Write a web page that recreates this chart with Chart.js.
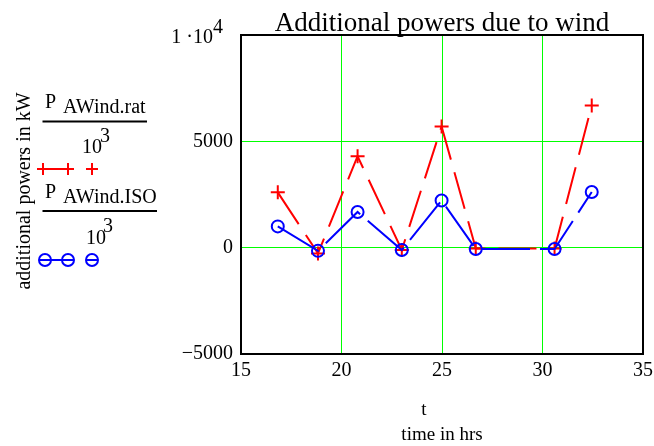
<!DOCTYPE html>
<html>
<head>
<meta charset="utf-8">
<script src="https://cdn.jsdelivr.net/npm/chart.js@4"></script>
<style>
html, body { margin: 0; padding: 0; background: #fff; }
#wrap { width: 654px; height: 446px; }
</style>
</head>
<body>
<div id="wrap"><canvas id="windChart" width="654" height="446"></canvas></div>
<script>
// time values (hrs) and powers divided by 10^3
const hours = [16.83, 18.83, 20.8, 23.0, 24.98, 26.68, 30.6, 32.45];
const pRat = [2600, -270, 4300, -110, 5700, -40, -40, 6690];
const pIso = [1000, -150, 1680, -110, 2220, -60, -60, 2620];
const xTicks = [15, 20, 25, 30, 35];
const yTicks = [-5000, 0, 5000, 10000];
const gridX = [20, 25, 30];
const gridY = [0, 5000];

const SERIF = "'Liberation Serif', 'DejaVu Serif', serif";
const RED = 'rgb(255, 0, 0)';
const BLUE = 'rgb(0, 0, 255)';
const GREEN = 'rgb(0, 255, 0)';

// text, border and legend around the plot (Mathcad style)
const extras = {
    id: 'extras',
    afterDraw(chart) {
        const c = chart.ctx;
        const a = chart.chartArea;
        c.save();
        c.strokeStyle = '#000';
        c.lineWidth = 2;
        c.strokeRect(a.left, a.top, a.right - a.left, a.bottom - a.top);

        c.fillStyle = '#000';
        c.textBaseline = 'alphabetic';

        // title
        c.font = '27px ' + SERIF;
        c.textAlign = 'center';
        c.fillText('Additional powers due to wind', (a.left + a.right) / 2, 31);

        // top y label 1·10^4
        const yTop = chart.scales.y.getPixelForValue(10000);
        c.font = '20px ' + SERIF;
        c.textAlign = 'right';
        c.fillText('1 \u00b710', 213, yTop + 8);
        c.textAlign = 'left';
        c.fillText('4', 213, yTop - 2);

        // x axis titles
        c.font = '19px ' + SERIF;
        c.textAlign = 'center';
        c.fillText('t', 424, 415);
        c.fillText('time in hrs', 442, 440);

        // y axis title
        c.save();
        c.translate(30, 191);
        c.rotate(-Math.PI / 2);
        c.font = '20px ' + SERIF;
        c.fillText('additional powers in kW', 0, 0);
        c.restore();

        // legend
        c.font = '20px ' + SERIF;
        c.textAlign = 'left';
        c.fillText('P', 45, 108);
        c.fillText('AWind.rat', 63, 113);
        c.fillText('10', 82, 153);
        c.fillText('3', 100, 142);
        c.fillText('P', 45, 198);
        c.fillText('AWind.ISO', 63, 203);
        c.fillText('10', 86, 243.5);
        c.fillText('3', 103, 232);

        c.lineWidth = 2;
        c.beginPath();
        c.moveTo(42.5, 121.5); c.lineTo(147, 121.5);
        c.moveTo(42.5, 211); c.lineTo(157, 211);
        c.stroke();

        c.strokeStyle = RED;
        c.beginPath();
        c.moveTo(43, 169); c.lineTo(68, 169);
        [43, 68, 92].forEach(px => {
            c.moveTo(px - 6, 169); c.lineTo(px + 6, 169);
            c.moveTo(px, 163); c.lineTo(px, 175);
        });
        c.stroke();

        c.strokeStyle = BLUE;
        c.beginPath();
        c.moveTo(45, 260); c.lineTo(68, 260);
        [45, 68, 92].forEach(px => {
            c.moveTo(px - 6, 260); c.lineTo(px + 6, 260);
        });
        c.stroke();
        [45, 68, 92].forEach(px => {
            c.beginPath();
            c.arc(px, 260, 6, 0, Math.PI * 2);
            c.stroke();
        });
        c.restore();
    }
};

const ctx = document.getElementById('windChart').getContext('2d');
const windChart = new Chart(ctx, {
    type: 'line',
    data: {
        datasets: [{
            label: 'P AWind.rat / 10^3',
            data: hours.map((h, i) => ({ x: h, y: pRat[i] })),
            borderColor: RED,
            borderWidth: 2,
            borderDash: [38, 13],
            pointStyle: 'cross',
            pointRadius: 7,
            pointBorderWidth: 2,
            pointBorderColor: RED,
            pointBackgroundColor: RED,
            tension: 0,
            order: 1
        }, {
            label: 'P AWind.ISO / 10^3',
            data: hours.map((h, i) => ({ x: h, y: pIso[i] })),
            borderColor: BLUE,
            borderWidth: 2,
            borderDash: [48, 10],
            pointStyle: 'circle',
            pointRadius: 6,
            pointBorderWidth: 2,
            pointBorderColor: BLUE,
            pointBackgroundColor: 'rgba(0,0,0,0)',
            tension: 0,
            order: 0
        }]
    },
    options: {
        responsive: false,
        animation: false,
        layout: { padding: { left: 0, top: 35, right: 11, bottom: 0 } },
        plugins: {
            legend: { display: false },
            tooltip: { enabled: false }
        },
        scales: {
            x: {
                type: 'linear',
                min: xTicks[0],
                max: xTicks[xTicks.length - 1],
                afterBuildTicks: scale => { scale.ticks = xTicks.map(v => ({ value: v })); },
                afterFit: scale => {
                    scale.height = 92;
                    scale.paddingLeft = 0;
                    scale.paddingRight = 0;
                },
                border: { display: false },
                grid: {
                    drawTicks: false,
                    color: g => gridX.includes(g.tick.value) ? GREEN : 'rgba(0,0,0,0)',
                    lineWidth: 1
                },
                ticks: {
                    color: '#000',
                    padding: 5,
                    maxRotation: 0,
                    font: { family: SERIF, size: 20 }
                }
            },
            y: {
                type: 'linear',
                min: yTicks[0],
                max: yTicks[yTicks.length - 1],
                afterBuildTicks: scale => { scale.ticks = yTicks.map(v => ({ value: v })); },
                afterFit: scale => {
                    scale.width = 241;
                    scale.paddingTop = 0;
                    scale.paddingBottom = 0;
                },
                border: { display: false },
                grid: {
                    drawTicks: false,
                    color: g => gridY.includes(g.tick.value) ? GREEN : 'rgba(0,0,0,0)',
                    lineWidth: 1
                },
                ticks: {
                    color: '#000',
                    padding: 8,
                    font: { family: SERIF, size: 20 },
                    callback: v => v === 10000 ? '' : (v < 0 ? '\u2212' + Math.abs(v) : String(v))
                }
            }
        }
    },
    plugins: [extras]
});
</script>
</body>
</html>
